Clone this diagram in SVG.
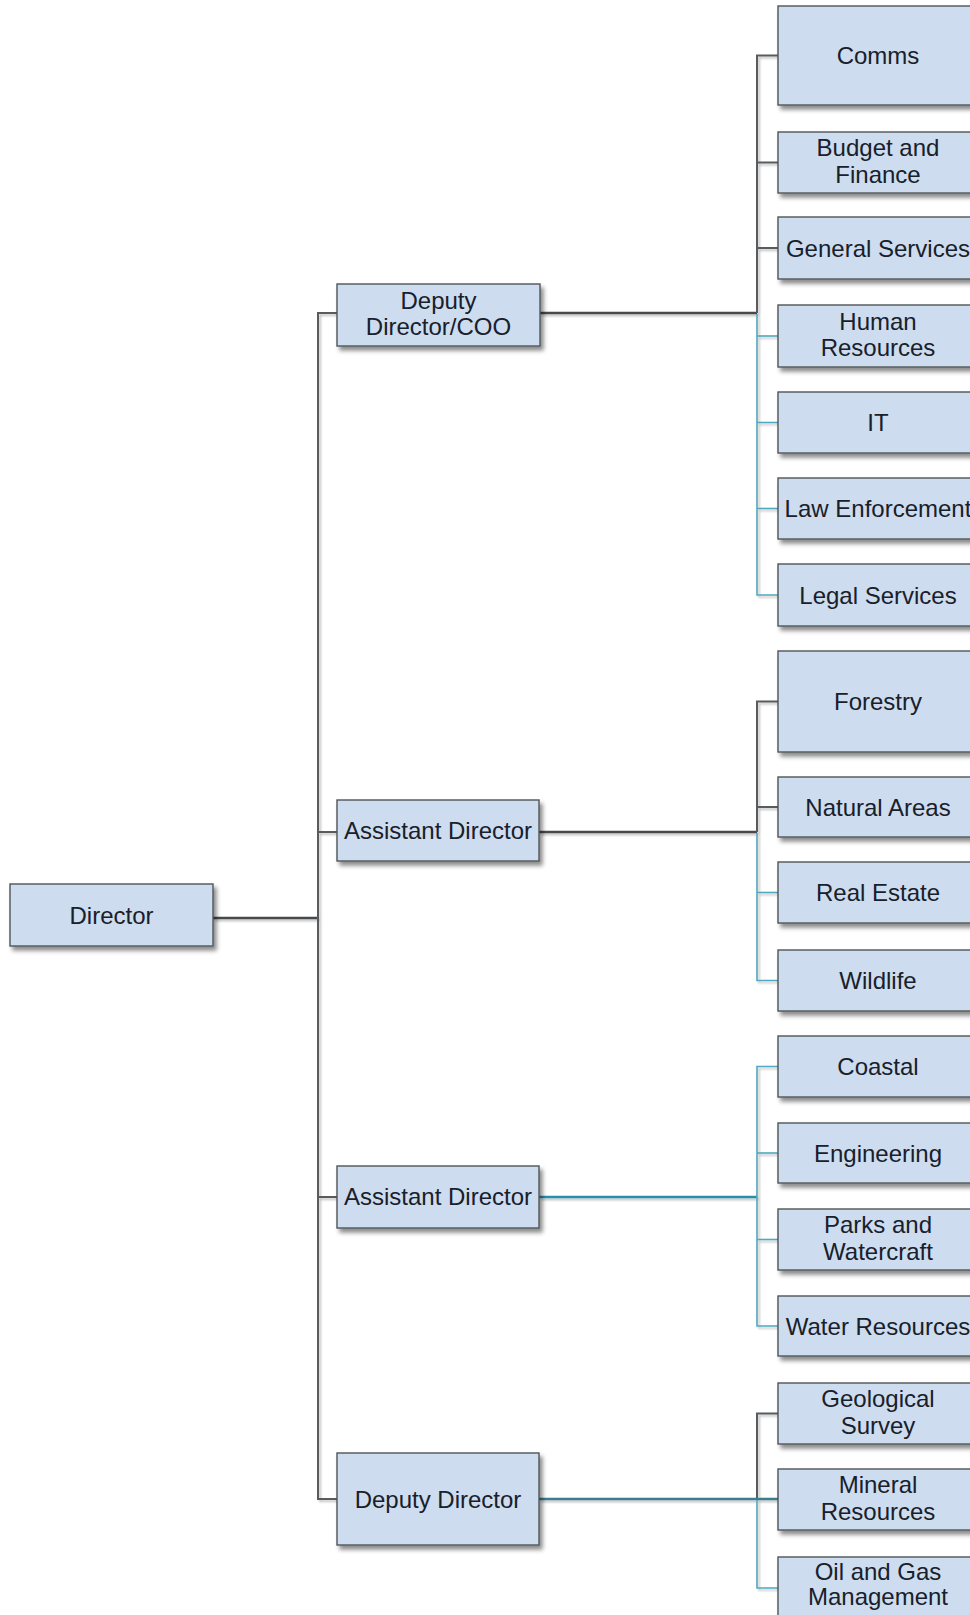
<svg xmlns="http://www.w3.org/2000/svg" width="970" height="1615" viewBox="0 0 970 1615">
  <defs>
    <filter id="boxShadow" x="-10%" y="-20%" width="130%" height="150%">
      <feDropShadow dx="3" dy="4" stdDeviation="2" flood-color="#000" flood-opacity="0.45"/>
    </filter>
    <filter id="lineShadow" x="-5%" y="-5%" width="110%" height="110%">
      <feDropShadow dx="2" dy="2" stdDeviation="1.2" flood-color="#000" flood-opacity="0.25"/>
    </filter>
  </defs>
  <style>
    .box { fill: #cddcee; stroke: #4f5459; stroke-width: 1.4; filter: url(#boxShadow); }
    .lbl { font-family: "Liberation Sans", Arial, sans-serif; font-size: 24px; fill: #18202b; text-anchor: middle; }
    .gray { fill: none; stroke: #595b5e; stroke-width: 2; }
    .gray-main { fill: none; stroke: #46484b; stroke-width: 2.6; }
    .teal { fill: none; stroke: #4fa9bf; stroke-width: 1.6; }
    .teal-strong { fill: none; stroke: #2c8eaa; stroke-width: 2.6; }
    .teal-dark { fill: none; stroke: #3a7d8c; stroke-width: 2.4; }
  </style>

  <!-- connectors -->
  <g id="connectors" filter="url(#lineShadow)">
    <!-- Director to its reports -->
    <path class="gray-main" d="M213 918 H318"/>
    <path class="gray" d="M337 313 H318 V1499 H337"/>
    <path class="gray" d="M318 832 H337"/>
    <path class="gray" d="M318 1197 H337"/>

    <!-- Deputy Director/COO branch -->
    <path class="gray-main" d="M540 313 H757"/>
    <path class="gray" d="M778 55.5 H757 V313"/>
    <path class="gray" d="M757 162.5 H778"/>
    <path class="gray" d="M757 248 H778"/>
    <path class="teal" d="M757 314 V595 H778"/>
    <path class="teal" d="M757 336 H778"/>
    <path class="teal" d="M757 422.5 H778"/>
    <path class="teal" d="M757 508.5 H778"/>

    <!-- Assistant Director (first) branch -->
    <path class="gray-main" d="M539 832 H757"/>
    <path class="gray" d="M778 701.5 H757 V832"/>
    <path class="gray" d="M757 807 H778"/>
    <path class="teal" d="M757 833 V980.5 H778"/>
    <path class="teal" d="M757 892.5 H778"/>

    <!-- Assistant Director (second) branch -->
    <path class="teal-strong" d="M539 1197 H757"/>
    <path class="teal" d="M778 1066.5 H757 V1326 H778"/>
    <path class="teal" d="M757 1153 H778"/>
    <path class="teal" d="M757 1239.5 H778"/>

    <!-- Deputy Director branch -->
    <path class="gray" d="M778 1413.5 H757 V1499"/>
    <path class="teal-dark" d="M539 1499 H778"/>
    <path class="teal" d="M757 1500 V1588 H778"/>
  </g>

  <!-- top level -->
  <g id="director">
    <rect class="box" x="10" y="884" width="203" height="62"/>
    <text class="lbl" x="111.5" y="923.5">Director</text>
  </g>

  <!-- second level -->
  <g id="deputy-director-coo">
    <rect class="box" x="337" y="284" width="203" height="62"/>
    <text class="lbl" x="438.5" y="308.5">Deputy</text>
    <text class="lbl" x="438.5" y="335">Director/COO</text>
  </g>
  <g id="assistant-director-1">
    <rect class="box" x="337" y="800" width="202" height="61"/>
    <text class="lbl" x="438" y="839">Assistant Director</text>
  </g>
  <g id="assistant-director-2">
    <rect class="box" x="337" y="1166" width="202" height="62"/>
    <text class="lbl" x="438" y="1205">Assistant Director</text>
  </g>
  <g id="deputy-director">
    <rect class="box" x="337" y="1453" width="202" height="92"/>
    <text class="lbl" x="438" y="1507.5">Deputy Director</text>
  </g>

  <!-- third level: Deputy Director/COO -->
  <g id="comms">
    <rect class="box" x="778" y="6" width="200" height="99"/>
    <text class="lbl" x="878" y="64">Comms</text>
  </g>
  <g id="budget-finance">
    <rect class="box" x="778" y="132" width="200" height="61"/>
    <text class="lbl" x="878" y="156">Budget and</text>
    <text class="lbl" x="878" y="182.5">Finance</text>
  </g>
  <g id="general-services">
    <rect class="box" x="778" y="217" width="200" height="62"/>
    <text class="lbl" x="878" y="256.5">General Services</text>
  </g>
  <g id="human-resources">
    <rect class="box" x="778" y="305" width="200" height="62"/>
    <text class="lbl" x="878" y="329.5">Human</text>
    <text class="lbl" x="878" y="356">Resources</text>
  </g>
  <g id="it">
    <rect class="box" x="778" y="392" width="200" height="61"/>
    <text class="lbl" x="878" y="431">IT</text>
  </g>
  <g id="law-enforcement">
    <rect class="box" x="778" y="478" width="200" height="61"/>
    <text class="lbl" x="878" y="517">Law Enforcement</text>
  </g>
  <g id="legal-services">
    <rect class="box" x="778" y="564" width="200" height="62"/>
    <text class="lbl" x="878" y="603.5">Legal Services</text>
  </g>

  <!-- third level: Assistant Director (first) -->
  <g id="forestry">
    <rect class="box" x="778" y="651" width="200" height="101"/>
    <text class="lbl" x="878" y="710">Forestry</text>
  </g>
  <g id="natural-areas">
    <rect class="box" x="778" y="777" width="200" height="60"/>
    <text class="lbl" x="878" y="815.5">Natural Areas</text>
  </g>
  <g id="real-estate">
    <rect class="box" x="778" y="862" width="200" height="61"/>
    <text class="lbl" x="878" y="901">Real Estate</text>
  </g>
  <g id="wildlife">
    <rect class="box" x="778" y="950" width="200" height="61"/>
    <text class="lbl" x="878" y="989">Wildlife</text>
  </g>

  <!-- third level: Assistant Director (second) -->
  <g id="coastal">
    <rect class="box" x="778" y="1036" width="200" height="61"/>
    <text class="lbl" x="878" y="1075">Coastal</text>
  </g>
  <g id="engineering">
    <rect class="box" x="778" y="1123" width="200" height="60"/>
    <text class="lbl" x="878" y="1161.5">Engineering</text>
  </g>
  <g id="parks-watercraft">
    <rect class="box" x="778" y="1209" width="200" height="61"/>
    <text class="lbl" x="878" y="1233">Parks and</text>
    <text class="lbl" x="878" y="1259.5">Watercraft</text>
  </g>
  <g id="water-resources">
    <rect class="box" x="778" y="1296" width="200" height="60"/>
    <text class="lbl" x="878" y="1334.5">Water Resources</text>
  </g>

  <!-- third level: Deputy Director -->
  <g id="geological-survey">
    <rect class="box" x="778" y="1383" width="200" height="61"/>
    <text class="lbl" x="878" y="1407">Geological</text>
    <text class="lbl" x="878" y="1433.5">Survey</text>
  </g>
  <g id="mineral-resources">
    <rect class="box" x="778" y="1469" width="200" height="61"/>
    <text class="lbl" x="878" y="1493">Mineral</text>
    <text class="lbl" x="878" y="1519.5">Resources</text>
  </g>
  <g id="oil-gas-management">
    <rect class="box" x="778" y="1557" width="200" height="62"/>
    <text class="lbl" x="878" y="1580">Oil and Gas</text>
    <text class="lbl" x="878" y="1605">Management</text>
  </g>
</svg>
